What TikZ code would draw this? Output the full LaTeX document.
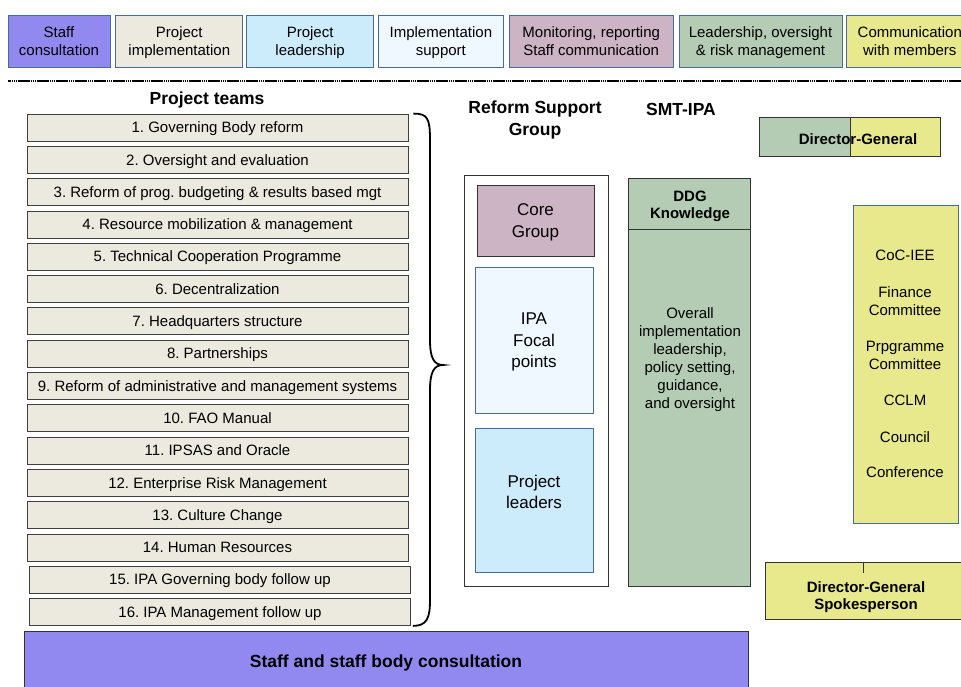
\documentclass[tikz,border=0pt]{standalone}
\usepackage{fontspec}
\setmainfont{Liberation Sans}
\usetikzlibrary{positioning}

\definecolor{staffcol}{HTML}{9189F0}
\definecolor{implcol}{HTML}{ECE9DF}
\definecolor{leadcol}{HTML}{CCEBFB}
\definecolor{supportcol}{HTML}{F0F8FF}
\definecolor{monitcol}{HTML}{CCB4C4}
\definecolor{oversightcol}{HTML}{B4CCB4}
\definecolor{commcol}{HTML}{E8E88C}
\definecolor{legendline}{HTML}{4A6A9A}

\begin{document}
\frenchspacing
\begin{tikzpicture}[x=1pt, y=-1pt,
    every node/.style={inner sep=0pt, align=center, font=\fontsize{15}{18}\selectfont},
    legend/.style={draw=legendline, line width=0.8pt, minimum height=52pt, text depth=0pt},
    team/.style={draw=black!75, line width=0.8pt, fill=implcol, minimum width=381pt, minimum height=27pt,
        text height=13.5pt, text depth=3pt},
    title/.style={font=\fontsize{17.5}{22}\selectfont\bfseries},
    boldlabel/.style={font=\fontsize{15}{17}\selectfont\bfseries},
    biglabel/.style={font=\fontsize{17}{21.5}\selectfont},
    box/.style={draw=black!80, line width=0.6pt}]
    \useasboundingbox (0,0) rectangle (961,686);

    % Leyenda de colores
    \node[legend, fill=staffcol, minimum width=102pt] (lg1) at (59,41) {Staff\\consultation};
    \node[legend, fill=implcol, minimum width=127pt, right=5pt of lg1] (lg2) {Project\\implementation};
    \node[legend, fill=leadcol, minimum width=127pt, right=3pt of lg2] (lg3) {Project\\leadership};
    \node[legend, fill=supportcol, minimum width=125pt, right=4pt of lg3] (lg4) {Implementation\\support};
    \node[legend, fill=monitcol, minimum width=164pt, right=5pt of lg4] (lg5) {Monitoring, reporting\\Staff communication};
    \node[legend, fill=oversightcol, minimum width=163pt, right=5pt of lg5] (lg6) {Leadership, oversight\\\& risk management};
    \node[legend, fill=commcol, minimum width=126pt, right=4pt of lg6] (lg7) {Communication\\with members};

    \draw[line width=2.5pt, dash pattern=on 1.5pt off 0.4pt] (8,81) -- (961,81);

    % Equipos de proyecto
    \node[title] (teams) at (207,100) {Project teams};
    \node[team] (t1) at (217.5,127.5) {1. Governing Body reform};
    \node[team, below=4.5pt of t1] (t2) {2. Oversight and evaluation};
    \node[team, below=4.5pt of t2] (t3) {3. Reform of prog. budgeting \& results based mgt};
    \node[team, below=4.5pt of t3] (t4) {4. Resource mobilization \& management};
    \node[team, below=4.5pt of t4] (t5) {5. Technical Cooperation Programme};
    \node[team, below=4.5pt of t5] (t6) {6. Decentralization};
    \node[team, below=4.5pt of t6] (t7) {7. Headquarters structure};
    \node[team, below=4.5pt of t7] (t8) {8. Partnerships};
    \node[team, below=4.5pt of t8] (t9) {9. Reform of administrative and management systems};
    \node[team, below=4.5pt of t9] (t10) {10. FAO Manual};
    \node[team, below=4.5pt of t10] (t11) {11. IPSAS and Oracle};
    \node[team, below=4.5pt of t11] (t12) {12. Enterprise Risk Management};
    \node[team, below=4.5pt of t12] (t13) {13. Culture Change};
    \node[team, below=4.5pt of t13] (t14) {14. Human Resources};
    \node[team, below=4.5pt of t14, xshift=2.5pt] (t15) {15. IPA Governing body follow up};
    \node[team, below=4.5pt of t15] (t16) {16. IPA Management follow up};

    % llave que agrupa los equipos
    \coordinate (bracetop) at ([xshift=5pt]t1.north east);
    \coordinate (bracebot) at ([xshift=2pt]t16.south east);
    \coordinate (bracetip) at (443,365);
    \draw[line width=1.8pt] (bracetop) .. controls ++(14,0) and (430,118) .. (430,140)
        -- (430,340) .. controls (430,358) and (434,365) .. (bracetip)
        .. controls (434,365) and (430,372) .. (430,390)
        -- (430,600) .. controls (430,618) and ([xshift=14pt]bracebot) .. (bracebot);

    % Grupo de apoyo a la reforma
    \node[title] (rsgtitle) at (535,120) {Reform Support\\Group};
    \node[box, fill=white, minimum width=144pt, minimum height=411pt] (rsg) at (536,380.5) {};
    \node[box, fill=monitcol, minimum width=117pt, minimum height=71pt] (core) at (535.5,220.5) {};
    \node[biglabel] (corelabel) at (535.5,222.5) {Core\\Group};
    \node[box, draw=legendline, fill=supportcol, minimum width=118pt, minimum height=146pt] (focal) at (534,340) {};
    \node[biglabel] (focallabel) at (534,342) {IPA\\Focal\\points};
    \node[box, draw=legendline, fill=leadcol, minimum width=118pt, minimum height=144pt] (leaders) at (534,500) {};
    \node[biglabel] (leaderslabel) at (534,492) {Project\\leaders};

    % SMT-IPA
    \node[title] (smt) at (681,109) {SMT-IPA};
    \node[box, fill=oversightcol, minimum width=122pt, minimum height=408pt] (ddg) at (689,382) {};
    \node[box, minimum width=122pt, minimum height=51pt, anchor=north] (ddghead) at (ddg.north) {};
    \node[boldlabel] (ddglabel) at (690,206) {DDG\\Knowledge};
    \node (ddgtext) at (690,360) {Overall\\implementation\\leadership,\\policy setting,\\guidance,\\and oversight};

    % Director-General
    \node[box, fill=oversightcol, minimum width=91pt, minimum height=39pt] (dgleft) at (804.5,136.5) {};
    \node[box, fill=commcol, minimum width=90pt, minimum height=39pt, right=0pt of dgleft] (dgright) {};
    \node[boldlabel] (dg) at (858,139.5) {Director-General};

    % Comunicacion con los miembros
    \node[box, draw=legendline, fill=commcol, minimum width=105pt, minimum height=318pt] (members) at (905.5,364) {};
    \node (coc) at (905,255) {CoC-IEE};
    \node (finance) at (905,301) {Finance\\Committee};
    \node (prog) at (905,355) {Prpgramme\\Committee};
    \node (cclm) at (905,400) {CCLM};
    \node (council) at (905,437) {Council};
    \node (conf) at (905,472) {Conference};

    \node[box, fill=commcol, minimum width=200pt, minimum height=57pt] (spokes) at (865,590.5) {};
    \node[boldlabel] (spoketext) at (866,597) {Director-General\\Spokesperson};
    \draw[black!80, line width=0.6pt] (spokes.north -| 863,0) -- ++(0,11);

    % Consulta del personal
    \node[box, fill=staffcol, minimum width=724pt, minimum height=64pt, title] (staff) at (386,663) {Staff and staff body consultation};
\end{tikzpicture}
\end{document}
